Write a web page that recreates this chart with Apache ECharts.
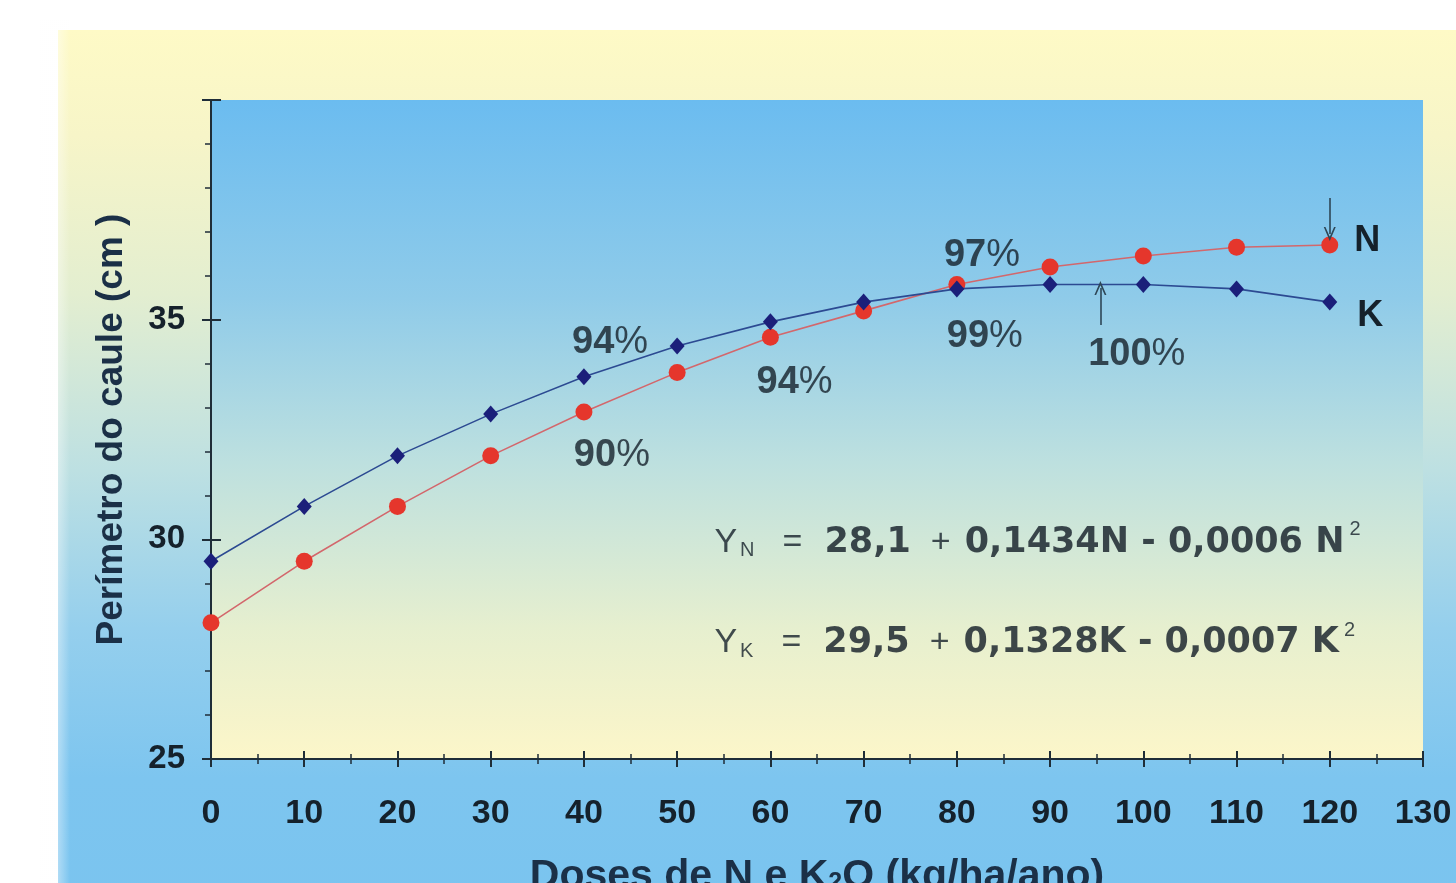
<!DOCTYPE html>
<html>
<head>
<meta charset="utf-8">
<style>
html,body{margin:0;padding:0;background:#fff;}
#c{width:1456px;height:883px;}
</style>
<script src="https://cdn.jsdelivr.net/npm/echarts@6/dist/echarts.min.js"></script>
</head>
<body>
<div id="c"></div>
<script>
// ---- data ----
const doses = [0, 10, 20, 30, 40, 50, 60, 70, 80, 90, 100, 110, 120];
const valuesN = [28.1, 29.5, 30.75, 31.9, 32.9, 33.8, 34.6, 35.2, 35.8, 36.2, 36.45, 36.65, 36.7];
const valuesK = [29.5, 30.75, 31.9, 32.85, 33.7, 34.4, 34.95, 35.4, 35.7, 35.8, 35.8, 35.7, 35.4];
const yTickLabels = [25, 30, 35];
const annoText = ['94', '90', '94', '97', '99', '100'];
const annoX = [42.8, 43.0, 62.6, 82.7, 83.0, 99.3];
const annoY = [34.49, 31.9, 33.58, 36.47, 34.61, 34.2];
const eqN = ['28,1', '0,1434N - 0,0006 N'];
const eqK = ['29,5', '0,1328K - 0,0007 K'];
const vertexN = 120, vertexK = 95.4;

const FONT = '"Liberation Sans", Arial, Helvetica, sans-serif';
const WIDE = '"DejaVu Sans", Verdana, sans-serif';
const TXT = '#15212b';
const AX = '#1f2d38';

const chart = echarts.init(document.getElementById('c'), null, {renderer: 'canvas'});

function eqRich(letter, p) {
  return '{y|Y}{s|' + letter + '}{e|=}{b|' + p[0] + '}{p|+}{b|' + p[1] + '}{u|2}';
}
const LH = 50;
const eqRichStyle = {
  y: {fontSize: 34, fontWeight: 'normal', color: TXT, fontFamily: FONT, lineHeight: LH, verticalAlign: 'middle'},
  e: {fontSize: 34, fontWeight: 'normal', color: TXT, fontFamily: FONT, lineHeight: LH, verticalAlign: 'middle', padding: [0, 22, 0, 28]},
  p: {fontSize: 34, fontWeight: 'normal', color: TXT, fontFamily: FONT, lineHeight: LH, verticalAlign: 'middle', padding: [0, 14, 0, 20]},
  b: {fontSize: 35, fontWeight: 'bold', color: '#111c25', fontFamily: WIDE, lineHeight: LH, verticalAlign: 'middle'},
  s: {fontSize: 20, fontWeight: 'normal', color: TXT, fontFamily: FONT, lineHeight: LH, verticalAlign: 'bottom', padding: [0, 0, 7, 3]},
  u: {fontSize: 20, fontWeight: 'normal', color: TXT, fontFamily: FONT, lineHeight: LH, verticalAlign: 'top', padding: [2, 0, 0, 5]}
};
const chevron = 'path://M5,0 L10,10 L8.6,10 L5,3 L1.4,10 L0,10 Z';

const option = {
  backgroundColor: 'transparent',
  animation: false,
  graphic: [
    {
      type: 'rect', z: -10, silent: true,
      shape: {x: 58, y: 30, width: 1420, height: 880},
      style: {
        fill: new echarts.graphic.LinearGradient(0, 0, 0, 1, [
          {offset: 0, color: '#fefac6'},
          {offset: 0.12, color: '#f7f5c8'},
          {offset: 0.3, color: '#e3eed0'},
          {offset: 0.5, color: '#bde0e2'},
          {offset: 0.68, color: '#95cfed'},
          {offset: 0.85, color: '#7dc5ef'},
          {offset: 1, color: '#7ac4ef'}
        ])
      }
    },
    {
      type: 'rect', z: -9, silent: true,
      shape: {x: 40, y: 20, width: 30, height: 870},
      style: {
        fill: new echarts.graphic.LinearGradient(0, 0, 1, 0, [
          {offset: 0, color: 'rgba(255,255,255,1)'},
          {offset: 1, color: 'rgba(255,255,255,0)'}
        ])
      }
    }
  ],
  grid: {
    left: 211, top: 100, width: 1212, height: 659,
    outerBoundsMode: 'none', containLabel: false,
    show: true, borderWidth: 0,
    backgroundColor: new echarts.graphic.LinearGradient(0, 0, 0, 1, [
      {offset: 0, color: '#6bbcf0'},
      {offset: 0.3, color: '#8fcbe9'},
      {offset: 0.55, color: '#bde0df'},
      {offset: 0.8, color: '#e6efcf'},
      {offset: 1, color: '#fcf6c9'}
    ])
  },
  xAxis: [
    {
      type: 'value', min: 0, max: 130, interval: 10,
      name: '{a|Doses de N e K}{s|2}{a|O (kg/ha/ano)}',
      nameLocation: 'middle', nameGap: 97,
      nameTextStyle: {
        rich: {
          a: {fontSize: 41, fontWeight: 'bold', color: '#1b3047', fontFamily: FONT},
          s: {fontSize: 25, fontWeight: 'bold', color: '#1b3047', fontFamily: FONT, padding: [14, 0, 0, 0]}
        }
      },
      axisLine: {show: true, onZero: false, lineStyle: {color: AX, width: 2}},
      axisTick: {show: true, inside: false, length: 8, lineStyle: {color: AX, width: 2}},
      minorTick: {show: true, splitNumber: 2, length: 5, lineStyle: {color: AX, width: 1.5}},
      splitLine: {show: false},
      axisLabel: {margin: 38, fontSize: 34, fontWeight: 'bold', color: TXT, fontFamily: FONT}
    },
    {
      type: 'value', min: 0, max: 130, interval: 10, position: 'bottom',
      axisLine: {show: false, onZero: false},
      axisTick: {show: true, inside: true, length: 8, lineStyle: {color: AX, width: 2}},
      minorTick: {show: true, splitNumber: 2, length: 5, lineStyle: {color: AX, width: 1.5}},
      splitLine: {show: false},
      axisLabel: {show: false}
    }
  ],
  yAxis: [
    {
      type: 'value', min: 25, max: 40, interval: 5,
      name: 'Perímetro do caule (cm )',
      nameLocation: 'middle', nameGap: 81, nameRotate: 90,
      nameTextStyle: {fontSize: 37, fontWeight: 'bold', color: '#1b3047', fontFamily: FONT},
      axisLine: {show: true, onZero: false, lineStyle: {color: AX, width: 2}},
      axisTick: {show: true, inside: false, length: 9, lineStyle: {color: AX, width: 2}},
      minorTick: {show: true, splitNumber: 5, length: 6, lineStyle: {color: AX, width: 1.5}},
      splitLine: {show: false},
      axisLabel: {
        margin: 26, fontSize: 33, fontWeight: 'bold', color: TXT, fontFamily: FONT,
        formatter: v => yTickLabels.indexOf(v) >= 0 ? String(v) : ''
      }
    },
    {
      type: 'value', min: 25, max: 40, interval: 5, position: 'left',
      axisLine: {show: false, onZero: false},
      axisTick: {show: true, inside: true, length: 10, lineStyle: {color: AX, width: 2}},
      splitLine: {show: false},
      axisLabel: {show: false}
    }
  ],
  series: [
    {
      name: 'K', type: 'line', z: 3,
      data: doses.map((d, i) => {
        const it = {value: [d, valuesK[i]]};
        if (i === doses.length - 1) it.label = {show: true, formatter: 'K', position: 'right', distance: 20,
          offset: [0, 14], fontSize: 36, fontWeight: 'bold', color: TXT, fontFamily: FONT};
        return it;
      }),
      symbol: 'diamond', symbolSize: [15, 17],
      itemStyle: {color: '#1b1f7a'},
      lineStyle: {color: '#2c4a92', width: 1.6},
      markLine: {
        silent: true, symbol: ['none', chevron], symbolSize: [12, 14],
        label: {show: false},
        lineStyle: {color: '#2e4656', width: 1.6, type: 'solid'},
        data: [[{coord: [vertexK, 34.88]}, {coord: [vertexK, 35.72]}]]
      }
    },
    {
      name: 'N', type: 'line', z: 2,
      data: doses.map((d, i) => {
        const it = {value: [d, valuesN[i]]};
        if (i === doses.length - 1) it.label = {show: true, formatter: 'N', position: 'right', distance: 16,
          offset: [0, -4], fontSize: 36, fontWeight: 'bold', color: TXT, fontFamily: FONT};
        return it;
      }),
      symbol: 'circle', symbolSize: 17,
      itemStyle: {color: '#e5362c'},
      lineStyle: {color: '#d3676c', width: 1.6},
      markLine: {
        silent: true, symbol: ['none', chevron], symbolSize: [12, 14],
        label: {show: false},
        lineStyle: {color: '#2e4656', width: 1.6, type: 'solid'},
        data: [[{coord: [vertexN, 37.77]}, {coord: [vertexN, 36.95]}]]
      }
    },
    {
      name: 'anno', type: 'scatter', symbolSize: 0, z: 5, silent: true,
      data: annoText.map((t, i) => ({value: [annoX[i], annoY[i]], t: t})),
      label: {
        show: true, position: 'inside',
        formatter: p => '{n|' + p.data.t + '}{p|%}',
        rich: {
          n: {fontSize: 38, fontWeight: 'bold', color: TXT, fontFamily: FONT},
          p: {fontSize: 38, fontWeight: 'normal', color: TXT, fontFamily: FONT}
        }
      }
    },
    {
      name: 'eq', type: 'scatter', symbolSize: 0, z: 5, silent: true,
      data: [
        {value: [54.0, 29.92], t: eqRich('N', eqN)},
        {value: [54.0, 27.64], t: eqRich('K', eqK)}
      ],
      label: {
        show: true, position: 'right', distance: 0,
        formatter: p => p.data.t,
        rich: eqRichStyle
      }
    }
  ]
};
chart.setOption(option);
</script>
</body>
</html>
